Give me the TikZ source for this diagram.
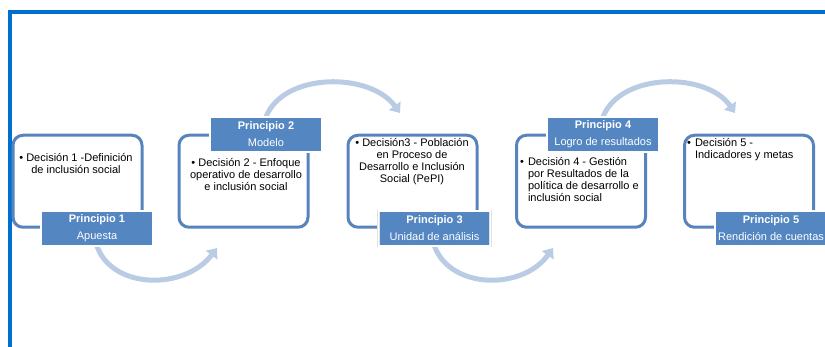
\documentclass[tikz,border=0pt]{standalone}
\usepackage{fontspec}
\setmainfont{Liberation Sans}
\usetikzlibrary{arrows.meta}
\usetikzlibrary{backgrounds}
\tikzset{>=latex}
\definecolor{frameblue}{RGB}{0,112,206}
\definecolor{prinblue}{RGB}{84,134,194}
\definecolor{boxblue}{RGB}{88,132,190}
\definecolor{arrowblue}{RGB}{185,204,228}
\tikzstyle{frameline}=[draw=frameblue,line width=4pt]
\tikzstyle{decbox}=[draw=boxblue,line width=3pt,fill=white,rounded corners=10pt,minimum width=129pt,minimum height=92pt]
\tikzstyle{prinlabel}=[draw=black!12,line width=0.5pt,double=white,double distance=1.6pt,fill=prinblue,text=white,minimum width=112pt,minimum height=35pt,inner xsep=2pt,align=center,font=\fontsize{11}{17}\selectfont]
\tikzstyle{dectext}=[align=center,font=\fontsize{11}{12}\selectfont,inner sep=0pt]
\tikzstyle{flowarrow}=[draw=arrowblue,line width=5pt,-{Triangle[length=9pt,width=14pt]}]

\begin{document}
\begin{tikzpicture}[x=1pt,y=-1pt]
  \useasboundingbox (0,0) rectangle (825,347);
  \clip (0,0) rectangle (825,347);
  \draw[frameline] (10,347) -- (10,12) -- (825,12);

  % decision boxes
  \node[decbox] (box1) at (77.5,181.25) {};
  \node[decbox] (box2) at (243.5,181.25) {};
  \node[decbox] (box3) at (412.5,181.25) {};
  \node[decbox] (box4) at (581,181.25) {};
  \node[decbox] (box5) at (749,181.25) {};

  \node[dectext] (dec1) at (76,164) {\textbullet\ Decisión 1 -Definición\\de inclusión social};
  \node[dectext] (dec2) at (246,175) {\textbullet\ Decisión 2 - Enfoque\\operativo de desarrollo\\e inclusión social};
  \node[dectext] (dec3) at (412,162) {\textbullet\ Decisión3 - Población\\en Proceso de\\Desarrollo e Inclusión\\Social (PePI)};
  \node[dectext,anchor=west] (dec4) at (520,181) {%
    \begin{tabular}{@{}l@{\hspace{4pt}}l@{}}
      \textbullet & Decisión 4 - Gestión\\
       & por Resultados de la\\
       & política de desarrollo e\\
       & inclusión social
    \end{tabular}};
  \node[dectext,anchor=west] (dec5) at (687,150) {%
    \begin{tabular}{@{}l@{\hspace{4pt}}l@{}}
      \textbullet & Decisión 5 -\\
       & Indicadores y metas
    \end{tabular}};

  % principle labels
  \node[prinlabel] (prin1) at (97,228.5) {\textbf{Principio 1}\\Apuesta};
  \node[prinlabel] (prin2) at (266,134.5) {\textbf{Principio 2}\\Modelo};
  \node[prinlabel] (prin3) at (434.5,228.5) {\textbf{Principio 3}\\Unidad de análisis};
  \node[prinlabel] (prin4) at (603,134.5) {\textbf{Principio 4}\\Logro de resultados};
  \node[prinlabel] (prin5) at (771,228.5) {\textbf{Principio 5}\\Rendición de cuentas};

  % curved arrows
  \coordinate (tip1) at (217,248);
  \coordinate (tip2) at (400,113);
  \coordinate (tip3) at (553,248);
  \coordinate (tip4) at (735,113);
  \begin{scope}[on background layer]
    \draw[flowarrow] (prin1.south) .. controls (113,290) and (185,290) .. (tip1);
    \draw[flowarrow] (prin2.north) .. controls (284,72) and (370,72) .. (tip2);
    \draw[flowarrow] (prin3.south) .. controls (451,290) and (523,290) .. (tip3);
    \draw[flowarrow] (prin4.north) .. controls (621,72) and (707,72) .. (tip4);
  \end{scope}
\end{tikzpicture}
\end{document}
